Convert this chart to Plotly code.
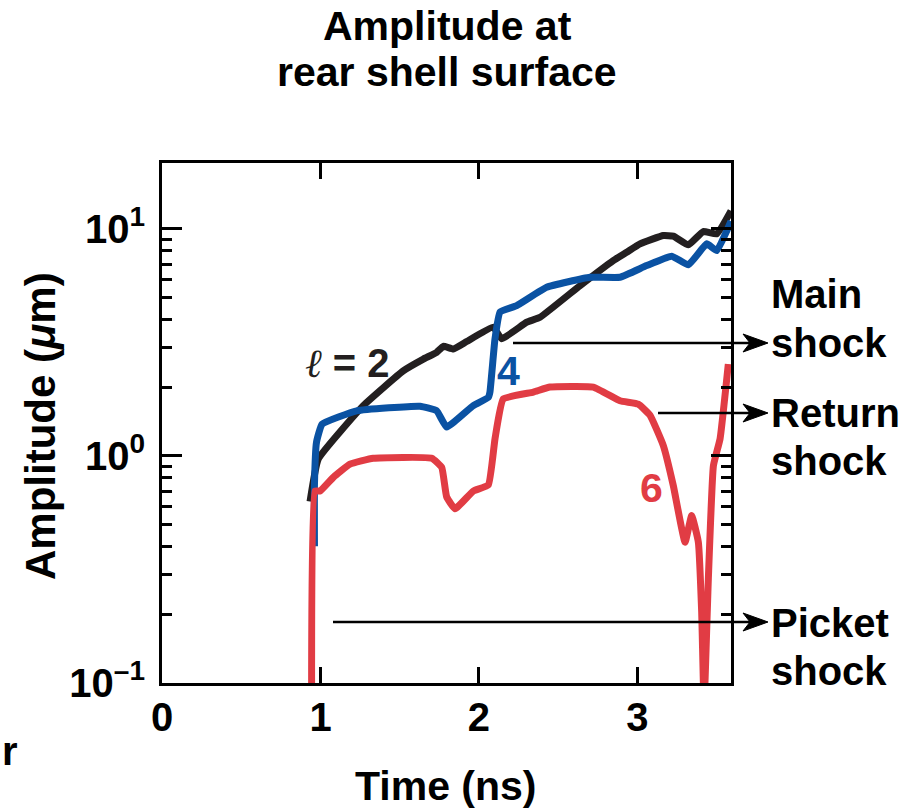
import plotly.graph_objects as go

# ---------------- data ----------------
t_l2 = [0.934, 0.986, 1.270, 1.522, 1.649, 1.733, 1.775, 1.838, 1.922, 2.090, 2.143,
        2.301, 2.385, 2.637, 2.847, 2.932, 3.016, 3.163, 3.226, 3.321, 3.415, 3.500, 3.59]
a_l2 = [0.63, 0.97, 1.666, 2.37, 2.67, 2.86, 3.04, 2.96, 3.19, 3.69, 3.28,
        3.88, 4.08, 5.62, 7.25, 7.89, 8.59, 9.34, 9.29, 8.50, 9.73, 9.51, 12.0]

t_l4 = [0.962, 0.962, 0.975, 1.010, 1.228, 1.628, 1.733, 1.796, 1.964, 2.059, 2.069,
        2.101, 2.133, 2.238, 2.427, 2.700, 2.890, 3.058, 3.216, 3.321, 3.437, 3.500, 3.59]
a_l4 = [0.40, 0.75, 1.15, 1.38, 1.58, 1.655, 1.58, 1.34, 1.666, 1.81, 1.91,
        3.28, 4.30, 4.59, 5.53, 6.12, 6.12, 6.89, 7.58, 6.94, 8.59, 8.02, 10.8]

t_l6 = [0.944, 0.965, 0.997, 1.081, 1.186, 1.333, 1.702, 1.765, 1.796, 1.849, 1.964,
        2.059, 2.101, 2.153, 2.343, 2.448, 2.721, 2.890, 3.005, 3.079, 3.163, 3.226,
        3.300, 3.342, 3.384, 3.405, 3.420, 3.447, 3.479, 3.521, 3.573]
a_l6 = [0.06, 0.70, 0.70, 0.805, 0.92, 0.977, 0.977, 0.89, 0.66, 0.585, 0.70,
        0.745, 1.19, 1.78, 1.91, 2.01, 2.01, 1.75, 1.69, 1.51, 1.11, 0.74,
        0.417, 0.546, 0.417, 0.205, 0.08, 0.287, 0.906, 1.19, 2.54]

x_ticks = [0, 1, 2, 3]
x_ticktext = ["0", "1", "2", "3"]
y_ticks = [0.1, 1, 10]
y_ticktext = ["10<sup>–1</sup>", "10<sup>0</sup>", "10<sup>1</sup>"]

BLACK = "#231f20"
BLUE = "#0a52a3"
RED = "#e13c44"
FONT = "Liberation Sans"

# plot-area pixel geometry
W, H = 920, 809
X0, X1, Y0, Y1 = 162, 731, 163, 683


def px(x):
    return (x - X0) / (X1 - X0)


def py(y):
    return (Y1 - y) / (Y1 - Y0)


fig = go.Figure()
for tx, ay, col in [(t_l2, a_l2, BLACK), (t_l4, a_l4, BLUE), (t_l6, a_l6, RED)]:
    fig.add_trace(go.Scatter(x=tx, y=ay, mode="lines",
                             line=dict(color=col, width=7, shape="spline", smoothing=0.35),
                             showlegend=False))

annotations = []


def txt(text, x, y, size=40, color="black", xanchor="center", angle=0):
    annotations.append(dict(text=text, x=px(x), y=py(y), xref="paper", yref="paper",
                            xanchor=xanchor, yanchor="middle", showarrow=False,
                            textangle=angle,
                            font=dict(family=FONT, size=size, color=color, weight="bold")))


# title
txt("Amplitude at", 447, 26, size=41)
txt("rear shell surface", 447, 72, size=41)
# axis titles
txt("Time (ns)", 446, 786, size=41)
txt("Amplitude (<i>μ</i>m)", 40, 426, size=42, angle=-90)
# curve labels
txt("<span style='font-family:DejaVu Serif;font-weight:normal'><i>ℓ</i></span> = 2",
    347, 363, size=40, color=BLACK)
txt("4", 508, 371, size=41, color=BLUE)
txt("6", 651, 488, size=41, color=RED)
# shock labels
for word, yb in [("Main", 308), ("shock", 357), ("Return", 427), ("shock", 475),
                 ("Picket", 637), ("shock", 685)]:
    txt(word, 769, yb - 14, size=40, xanchor="left")
# fragment at the bottom-left edge
txt("r", 0, 751, size=40, xanchor="left")

shapes = []
for xs, ya in [(513, 343), (658, 413), (333, 622)]:
    shapes.append(dict(type="line", xref="paper", yref="paper",
                       x0=px(xs), x1=px(750), y0=py(ya), y1=py(ya),
                       line=dict(color="black", width=2.5)))
    path = (f"M {px(768)},{py(ya)} L {px(743)},{py(ya - 9)} L {px(750)},{py(ya)} "
            f"L {px(743)},{py(ya + 9)} Z")
    shapes.append(dict(type="path", xref="paper", yref="paper", path=path,
                       fillcolor="black", line=dict(color="black", width=1)))

fig.update_layout(
    width=W, height=H,
    margin=dict(l=X0, r=W - X1, t=Y0, b=H - Y1, pad=0),
    paper_bgcolor="white", plot_bgcolor="white",
    annotations=annotations, shapes=shapes,
    xaxis=dict(range=[0, 3.59], tickvals=x_ticks, ticktext=x_ticktext,
               ticks="inside", ticklen=16, tickwidth=2.5, tickcolor="black",
               showline=True, linewidth=3, linecolor="black", mirror="ticks",
               showgrid=False, zeroline=False, ticklabelstandoff=-3,
               tickfont=dict(family=FONT, size=40, color="black", weight="bold")),
    yaxis=dict(type="log", range=[-1, 1.29], tickvals=y_ticks, ticktext=y_ticktext,
               ticks="inside", ticklen=20, tickwidth=2.5, tickcolor="black",
               showline=True, linewidth=3, linecolor="black", mirror="allticks",
               showgrid=False, zeroline=False, ticklabelstandoff=6,
               minor=dict(ticks="inside", ticklen=10, tickwidth=2.5, tickcolor="black",
                          dtick="D1", showgrid=False),
               tickfont=dict(family=FONT, size=40, color="black", weight="bold")),
)

fig.write_html("out.html")
